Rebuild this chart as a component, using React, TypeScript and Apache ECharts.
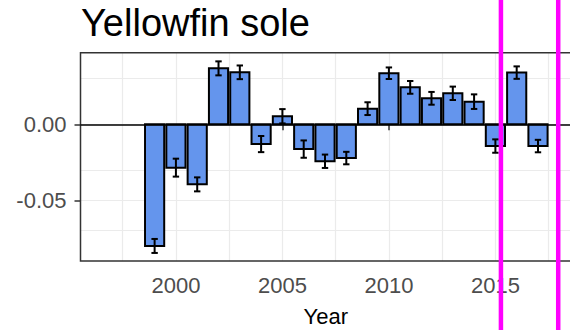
import React, { useEffect, useRef } from "react";
import * as echarts from "echarts";

const years = [1999, 2000, 2001, 2002, 2003, 2004, 2005, 2006, 2007, 2008, 2009, 2010, 2011, 2012, 2013, 2014, 2015, 2016, 2017];
const values = [-0.080, -0.0285, -0.0395, 0.0368, 0.0342, -0.013, 0.0053, -0.0163, -0.0243, -0.0222, 0.0103, 0.0336, 0.0243, 0.0171, 0.0204, 0.0149, -0.0143, 0.034, -0.0143];
const errors = [0.0046, 0.0059, 0.0046, 0.0046, 0.0045, 0.0053, 0.0047, 0.0057, 0.0044, 0.0041, 0.0042, 0.0038, 0.0042, 0.0042, 0.0044, 0.0048, 0.0044, 0.0041, 0.0041];
const xTicks = [2000, 2005, 2010, 2015];
const xMinor = [1997.5, 2002.5, 2007.5, 2012.5, 2017.5];
const yTicks = [-0.05, 0];
const yMinor = [-0.075, -0.025, 0.025];
const highlightYears = [2015.26, 2017.95];
const titleText = "Yellowfin sole";
const xName = "Year";

const FONT = "'Liberation Sans', Arial, sans-serif";

export default function App() {
  const ref = useRef<HTMLDivElement>(null);
  useEffect(() => {
    if (!ref.current) return;
    const chart = echarts.init(ref.current, undefined, { renderer: "svg" });
    const barData = years.map((y, i) => [y, values[i], errors[i]]);
    const option: any = {
      animation: false,
      title: {
        text: titleText,
        left: 76,
        top: -1,
        textStyle: { fontSize: 38, fontWeight: "normal", color: "#000", fontFamily: FONT },
      },
      grid: {
        left: 80.5,
        top: 52.7,
        right: -1,
        bottom: 69,
        containLabel: false,
        outerBoundsMode: "none",
        show: true,
        borderColor: "#333333",
        borderWidth: 1.5,
        backgroundColor: "transparent",
        z: 1,
      },
      xAxis: {
        type: "value",
        min: 1995.52,
        max: 2018.55,
        name: xName,
        nameLocation: "middle",
        nameGap: 44,
        nameTextStyle: { fontSize: 22, color: "#000", fontFamily: FONT },
        axisLine: { show: false },
        splitLine: { show: false },
        axisTick: { show: true, customValues: xTicks, length: 6, lineStyle: { color: "#333333", width: 1.5 } },
        axisLabel: {
          customValues: xTicks,
          formatter: (v: number) => String(v),
          fontSize: 22,
          color: "#4D4D4D",
          fontFamily: FONT,
          margin: 13,
        },
      },
      yAxis: {
        type: "value",
        min: -0.0899,
        max: 0.0471,
        axisLine: { show: false },
        splitLine: { show: false },
        axisTick: { show: true, customValues: yTicks, length: 6, lineStyle: { color: "#333333", width: 1.5 } },
        axisLabel: {
          customValues: yTicks,
          formatter: (v: number) => v.toFixed(2),
          fontSize: 22,
          color: "#4D4D4D",
          fontFamily: FONT,
          margin: 14,
        },
      },
      series: [
        {
          type: "line",
          data: [],
          silent: true,
          z: 0,
          markLine: {
            silent: true,
            z: 0,
            symbol: "none",
            label: { show: false },
            animation: false,
            lineStyle: { color: "#EBEBEB", width: 1.2, type: "solid" },
            data: [
              ...xTicks.map((v) => ({ xAxis: v })),
              ...xMinor.map((v) => ({ xAxis: v })),
              ...yTicks.map((v) => ({ yAxis: v })),
              ...yMinor.map((v) => ({ yAxis: v })),
            ],
          },
        },
        {
          type: "custom",
          z: 2,
          clip: true,
          data: barData,
          renderItem: (params: any, api: any) => {
            const x = api.value(0);
            const v = api.value(1);
            const p1 = api.coord([x - 0.45, v]);
            const p2 = api.coord([x + 0.45, 0]);
            return {
              type: "rect",
              shape: {
                x: Math.min(p1[0], p2[0]),
                y: Math.min(p1[1], p2[1]),
                width: Math.abs(p2[0] - p1[0]),
                height: Math.abs(p2[1] - p1[1]),
              },
              style: { fill: "#6495ED", stroke: "#000", lineWidth: 2 },
            };
          },
        },
        {
          type: "line",
          data: [],
          silent: true,
          z: 3,
          markLine: {
            silent: true,
            z: 3,
            symbol: "none",
            label: { show: false },
            animation: false,
            lineStyle: { color: "#000", width: 1.5, type: "solid" },
            data: [{ yAxis: 0 }],
          },
        },
        {
          type: "custom",
          z: 4,
          data: barData,
          renderItem: (params: any, api: any) => {
            const x = api.value(0);
            const v = api.value(1);
            const e = api.value(2);
            const top = api.coord([x, v + e]);
            const bot = api.coord([x, v - e]);
            const l = api.coord([x - 0.15, v])[0];
            const r = api.coord([x + 0.15, v])[0];
            const style = { stroke: "#000", lineWidth: 2 };
            return {
              type: "group",
              children: [
                { type: "line", shape: { x1: top[0], y1: top[1], x2: bot[0], y2: bot[1] }, style },
                { type: "line", shape: { x1: l, y1: top[1], x2: r, y2: top[1] }, style },
                { type: "line", shape: { x1: l, y1: bot[1], x2: r, y2: bot[1] }, style },
              ],
            };
          },
        },
      ],
    };
    chart.setOption(option);
    const h = ref.current.clientHeight;
    const lines = highlightYears.map((yr) => {
      const px = chart.convertToPixel({ xAxisIndex: 0 }, yr) as number;
      return {
        type: "line",
        z: 100,
        shape: { x1: px, y1: 0, x2: px, y2: h },
        style: { stroke: "#FF00FF", lineWidth: 4.5 },
      };
    });
    chart.setOption({ graphic: lines });
    return () => chart.dispose();
  }, []);
  return (
    <div
      ref={ref}
      style={{ position: "fixed", left: 0, top: 0, width: 570, height: 330, background: "#fff" }}
    />
  );
}
